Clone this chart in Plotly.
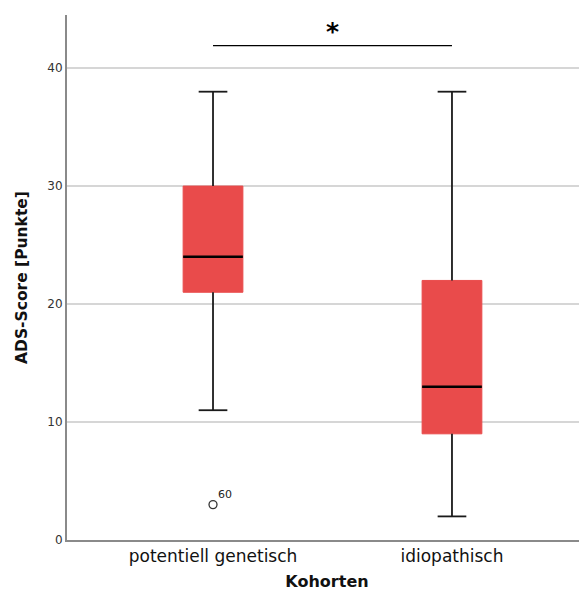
import plotly.graph_objects as go

# Data
categories = ["potentiell genetisch", "idiopathisch"]
lower_whisker = [11, 2]
q1 = [21, 9]
median = [24, 13]
q3 = [30, 22]
upper_whisker = [38, 38]
outlier_values = [3]
outlier_groups = [0]
outlier_labels = ["60"]
sig_pair = [0, 1]
sig_label = "*"
yticks = [0, 10, 20, 30, 40]

BOX_W = 0.25
CAP_W = 0.12
RED = "#E94B4B"
FONT = "DejaVu Sans"

fig = go.Figure()
xpos = list(range(len(categories)))

# whiskers (drawn first, under the boxes)
for i in xpos:
    fig.add_trace(go.Scatter(
        x=[i, i, None, i, i, None, i - CAP_W / 2, i + CAP_W / 2, None, i - CAP_W / 2, i + CAP_W / 2],
        y=[lower_whisker[i], q1[i], None, q3[i], upper_whisker[i], None,
           lower_whisker[i], lower_whisker[i], None, upper_whisker[i], upper_whisker[i]],
        mode="lines", line=dict(color="#1a1a1a", width=1.8),
        hoverinfo="skip", showlegend=False))

# boxes
fig.add_trace(go.Box(
    x=xpos, q1=q1, median=median, q3=q3, lowerfence=q1, upperfence=q3,
    fillcolor=RED, line=dict(color=RED, width=1), width=BOX_W,
    whiskerwidth=0, showlegend=False, boxpoints=False))

# median lines
for i in xpos:
    fig.add_trace(go.Scatter(
        x=[i - BOX_W / 2, i + BOX_W / 2], y=[median[i], median[i]],
        mode="lines", line=dict(color="black", width=2.5),
        hoverinfo="skip", showlegend=False))

# outliers
fig.add_trace(go.Scatter(
    x=outlier_groups, y=outlier_values, mode="markers",
    marker=dict(symbol="circle-open", size=8, color="#333", line=dict(width=1.3)),
    showlegend=False))
for g, v, lab in zip(outlier_groups, outlier_values, outlier_labels):
    fig.add_annotation(x=g, y=v, text=lab, showarrow=False, xanchor="left", yanchor="bottom",
                       xshift=3, yshift=2, font=dict(family=FONT, size=11, color="#222"))

# significance bracket
fig.add_trace(go.Scatter(
    x=sig_pair, y=[41.9, 41.9], mode="lines", line=dict(color="black", width=1.2),
    hoverinfo="skip", showlegend=False))
fig.add_annotation(x=sum(sig_pair) / 2, y=41.9, text="<b>" + sig_label + "</b>", showarrow=False,
                   yanchor="bottom", yshift=-2, font=dict(family=FONT, size=25, color="black"))

# page has an 8px body margin, so the figure is smaller and shifted
fig.update_layout(
    width=579, height=586,
    margin=dict(l=59, r=0, t=7, b=54),
    plot_bgcolor="white", paper_bgcolor="white",
    font=dict(family=FONT, color="#222"),
    xaxis=dict(range=[-0.611, 1.565], tickvals=xpos, ticktext=categories,
               tickfont=dict(size=17, color="#111"), showgrid=False, zeroline=False,
               showline=True, linecolor="#8a8a8a", linewidth=2, ticks="",
               title=dict(text="<b>Kohorten</b>", font=dict(size=16, color="#111"), standoff=10)),
    yaxis=dict(range=[0, 44.5], tickvals=yticks, tickfont=dict(size=12, color="#333"),
               showgrid=True, gridcolor="#d6d6d6", gridwidth=1.5, zeroline=False,
               showline=True, linecolor="#8a8a8a", linewidth=2, ticks="", ticklen=0,
               title=dict(text="<b>ADS-Score [Punkte]</b>", font=dict(size=15.5, color="#111"), standoff=16)),
)

fig.write_html("out.html")
